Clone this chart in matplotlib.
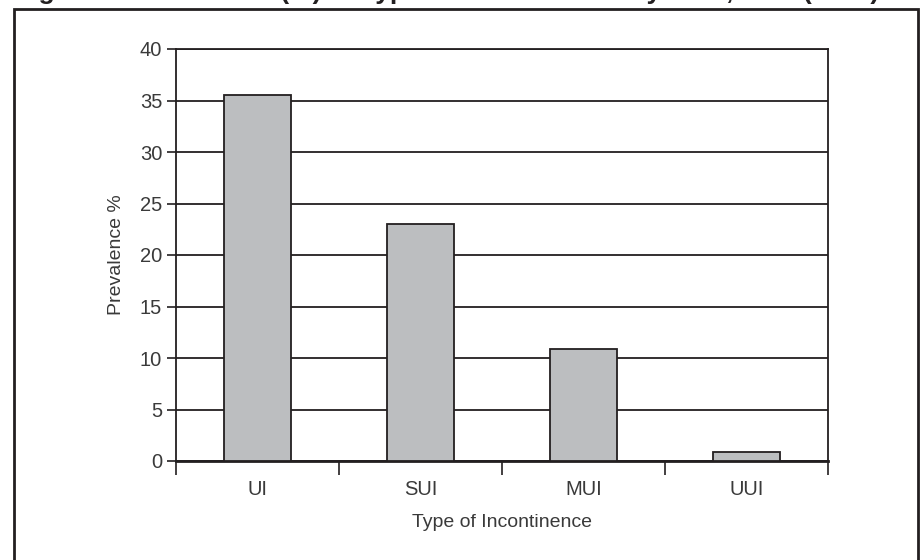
import numpy as np
import matplotlib
matplotlib.use('Agg')
from matplotlib import pyplot as plt
from matplotlib import patches

# Values:
categories = ['UI', 'SUI', 'MUI', 'UUI']
prevalence = [35.5, 23.0, 10.9, 0.9]
y_ticks = [0, 5, 10, 15, 20, 25, 30, 35, 40]

# Title is cut off in the reference (only descenders visible), best guess:
title = 'Figure 1: Prevalence (%) of Type of Incontinence by Area, USA (2008)'
x_label = 'Type of Incontinence'
y_label = 'Prevalence %'

plt.rcParams['font.family'] = ['Liberation Sans', 'DejaVu Sans']
text_color = '#3a3a3a'
line_color = '#231f20'
bar_color = '#bcbec0'

W, H = 922, 560
fig = plt.figure(figsize=(W / 100, H / 100), dpi=100)
ax = fig.add_axes([176 / W, 1 - 461 / H, (828 - 176) / W, (461 - 49) / H])

# Bars centred inside each category slot:
x = np.arange(len(categories)) + 0.5
ax.bar(x, prevalence, width=0.41, color=bar_color, edgecolor=line_color, linewidth=1.3, zorder=3)
ax.set_xlim(0, len(categories))
ax.set_ylim(0, 40)

## Horizontal grid behind the bars:
ax.set_yticks(y_ticks)
ax.yaxis.grid(True, color=line_color, lw=1.3, zorder=1)
ax.set_axisbelow(True)
ax.tick_params(axis='y', direction='out', length=6.5, width=1.2, color=line_color,
               pad=3.5, labelsize=14.5, labelcolor=text_color)

## Category separators as major ticks, labels on minor ticks:
ax.set_xticks(np.arange(len(categories) + 1))
ax.set_xticklabels([])
ax.set_xticks(x, minor=True)
ax.set_xticklabels(categories, minor=True)
ax.tick_params(axis='x', which='major', direction='out', length=10, width=1.2, color=line_color)
ax.tick_params(axis='x', which='minor', length=0, pad=13.5, labelsize=14.5, labelcolor=text_color)

for side in ['left', 'right', 'top']:
    ax.spines[side].set_linewidth(1.3)
    ax.spines[side].set_color(line_color)
ax.spines['bottom'].set_linewidth(2)
ax.spines['bottom'].set_color(line_color)

## Axis labels:
ax.set_xlabel(x_label, fontsize=14, color=text_color, va='top')
ax.xaxis.set_label_coords(0.5, -0.128)
ax.set_ylabel(y_label, fontsize=14, color=text_color)
ax.yaxis.set_label_coords(-0.078, 0.5)

# Outer frame (bottom runs off the image) and clipped title:
fig.add_artist(patches.Rectangle((14 / W, -0.05), (918 - 14) / W, 1.05 - 8.5 / H, transform=fig.transFigure,
                                 fill=False, edgecolor=line_color, lw=2, clip_on=False))
fig.text(15 / W, 1 + 1 / H, title, fontsize=19, weight='bold', color=line_color, va='baseline', ha='left')

fig.savefig('out.png', dpi=100)
plt.close(fig)
